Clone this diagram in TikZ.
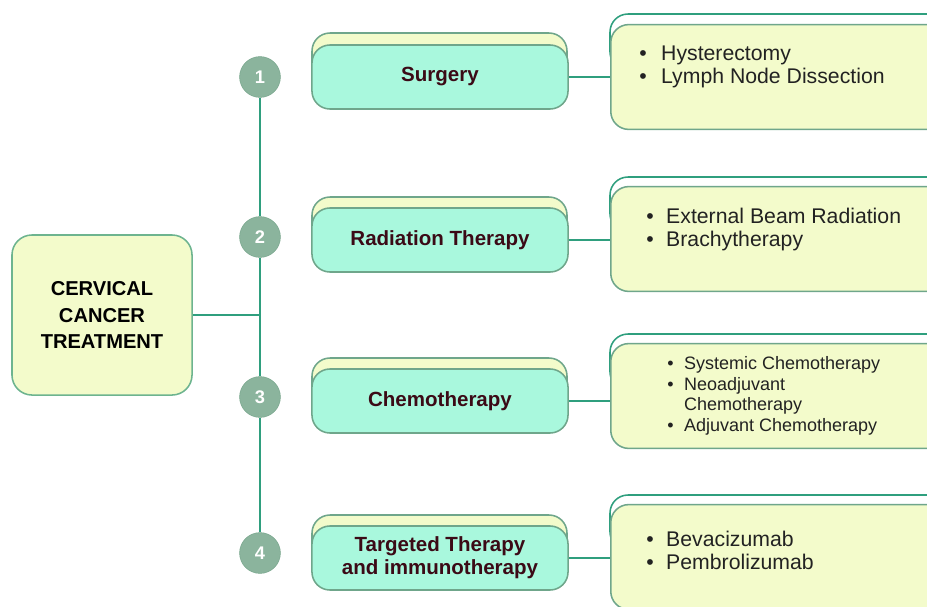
\documentclass[tikz,border=0pt]{standalone}
\usepackage{fontspec}
\setmainfont{Liberation Sans}
\definecolor{paleyellow}{HTML}{F3FBCB}
\definecolor{mint}{HTML}{A9F8DD}
\definecolor{midedge}{HTML}{6FA68B}
\definecolor{rootedge}{HTML}{6DB48F}
\definecolor{tealline}{HTML}{2F9F7E}
\definecolor{numfill}{HTML}{8BB49D}
\definecolor{numedge}{HTML}{7BA88F}
\definecolor{maroon}{HTML}{3B0A16}
\definecolor{inkgray}{HTML}{222222}
\newcommand{\bul}[1]{\makebox[#1][l]{\textbullet}}
\begin{document}
\begin{tikzpicture}[x=0.025cm, y=-0.025cm,
	rootbox/.style={draw=rootedge, line width=1.1pt, fill=paleyellow, rounded corners=0.5cm,
		minimum width=4.5cm, minimum height=4cm, align=center, text=black,
		font=\bfseries\fontsize{14.3}{18.8}\selectfont},
	stepnum/.style={circle, draw=numedge, fill=numfill, minimum size=1.02cm, inner sep=0pt,
		text=white, font=\bfseries\fontsize{13}{13}\selectfont},
	therapy/.style={draw=midedge, line width=1.1pt, fill=mint, rounded corners=0.45cm,
		minimum width=6.4cm, minimum height=1.6cm, align=center, text=maroon,
		font=\bfseries\fontsize{14.6}{16.4}\selectfont},
	therapyback/.style={draw=midedge, line width=1.1pt, fill=paleyellow, rounded corners=0.45cm},
	detail/.style={draw=midedge, line width=1.1pt, fill=paleyellow, rounded corners=0.45cm,
		minimum width=8.4cm, minimum height=2.62cm, anchor=west},
	detailback/.style={draw=tealline, line width=1.1pt, fill=white, rounded corners=0.45cm},
	items/.style={anchor=north west, inner sep=0pt, align=left, text=inkgray,
		font=\fontsize{15.1}{16.4}\selectfont},
	link/.style={draw=tealline, line width=1.3pt}]
	\clip (0,0) rectangle (927,606);
	%
	\node[rootbox] (root) at (102,315) {CERVICAL\\CANCER\\TREATMENT};
	%
	\node[stepnum] (n1) at (260,77) {1};
	\node[stepnum] (n2) at (260,237) {2};
	\node[stepnum] (n3) at (260,397) {3};
	\node[stepnum] (n4) at (260,553) {4};
	%
	\draw[therapyback] (312,33) rectangle (567,85);
	\draw[therapyback] (312,197) rectangle (567,250);
	\draw[therapyback] (312,358) rectangle (567,410);
	\draw[therapyback] (312,515) rectangle (567,567);
	\node[therapy] (surgery) at (440,77) {Surgery};
	\node[therapy] (radiation) at (440,240) {Radiation Therapy};
	\node[therapy] (chemo) at (440,401) {Chemotherapy};
	\node[therapy] (targeted) at (440,558) {Targeted Therapy\\and immunotherapy};
	%
	\draw[detailback] (610,14) rectangle (950,70);
	\draw[detailback] (610,177) rectangle (950,232);
	\draw[detailback] (610,334) rectangle (950,390);
	\draw[detailback] (610,495) rectangle (950,550);
	\node[detail] (d1) at (610,77) {};
	\node[detail] (d2) at (610,239) {};
	\node[detail] (d3) at (610,396) {};
	\node[detail] (d4) at (610,557) {};
	%
	\node[items] (t1) at (639,46) {\bul{15.6pt}Hysterectomy\\\bul{15.6pt}Lymph Node Dissection};
	\node[items] (t2) at (646,208) {\bul{14.2pt}External Beam Radiation\\\bul{14.2pt}Brachytherapy};
	\node[items, font=\fontsize{12.8}{14.7}\selectfont] (t3) at (667,356)
		{\bul{12pt}Systemic Chemotherapy\\\bul{12pt}Neoadjuvant\\\hspace*{12pt}Chemotherapy\\\bul{12pt}Adjuvant Chemotherapy};
	\node[items] (t4) at (646,531) {\bul{14.2pt}Bevacizumab\\\bul{14.2pt}Pembrolizumab};
	%
	\draw[link] (root.east) -- (root.east -| n2.center);
	\draw[link] (n1.south) -- (n2.north);
	\draw[link] (n2.south) -- (n3.north);
	\draw[link] (n3.south) -- (n4.north);
	\draw[link] (surgery.east) -- (d1.west |- surgery.east);
	\draw[link] (radiation.east) -- (d2.west |- radiation.east);
	\draw[link] (chemo.east) -- (d3.west |- chemo.east);
	\draw[link] (targeted.east) -- (d4.west |- targeted.east);
	%
\end{tikzpicture}
\end{document}
